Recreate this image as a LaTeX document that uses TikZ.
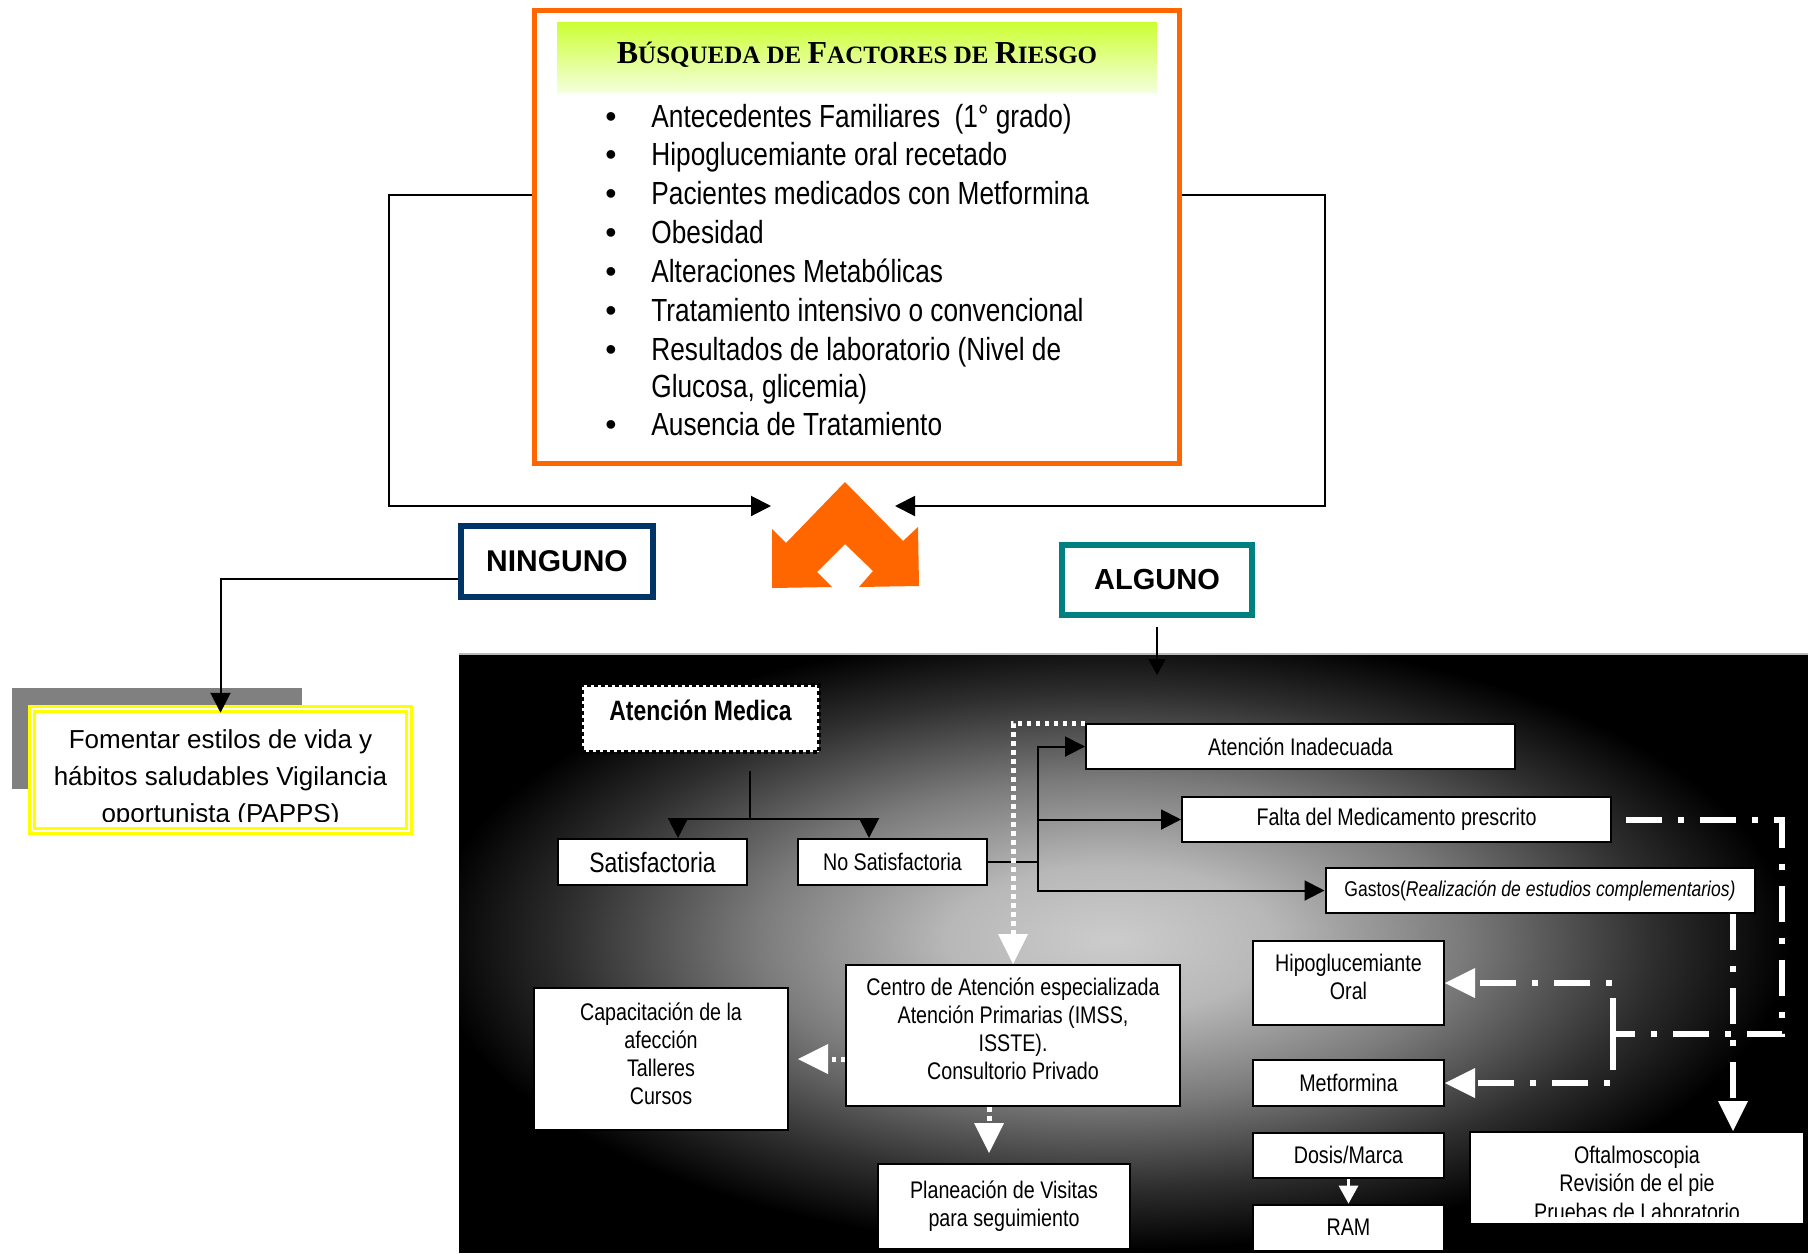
\documentclass[tikz,border=0pt]{standalone}
\usepackage{fontspec}
\setmainfont{Liberation Sans}
\newfontfamily\narrow[FakeStretch=0.82]{Liberation Sans}
\newfontfamily\titleserif{Liberation Serif}
\usetikzlibrary{arrows.meta}

\definecolor{riskorange}{HTML}{FF6600}
\definecolor{navybox}{HTML}{003366}
\definecolor{tealbox}{HTML}{008080}
\definecolor{limetop}{HTML}{CCFF33}
\definecolor{limebot}{HTML}{F4FFDC}
\definecolor{shadowgray}{HTML}{808080}
\definecolor{yellowline}{HTML}{FFFF00}
\definecolor{glowA}{gray}{0.80}
\definecolor{glowB}{gray}{0.72}
\definecolor{glowC}{gray}{0.48}
\definecolor{glowD}{gray}{0.18}
\definecolor{glowE}{gray}{0.0}

% light spot in the middle of the dark panel
\pgfdeclareradialshading{panelglow}{\pgfpoint{0bp}{0bp}}{%
  color(0bp)=(glowA); color(6bp)=(glowB); color(13bp)=(glowC);
  color(20bp)=(glowD); color(25bp)=(glowE); color(50bp)=(glowE)}

% large and small capitals of the title
\newcommand\capL{\fontsize{16}{18}\selectfont}
\newcommand\capS{\fontsize{12.5}{14}\selectfont}
% extra depth under the last line of a box, to lift its text
\newcommand\lift[1]{\rule[-#1]{0pt}{#1}}

\begin{document}
\begin{tikzpicture}[x=0.5pt,y=-0.5pt,
  conn/.style={draw=black, line width=1pt},
  arr/.style={conn, -{Triangle[length=10pt,width=10pt]}},
  box/.style={draw=black, line width=1pt, fill=white, inner sep=2pt,
    align=center, font=\narrow\fontsize{12}{14}\selectfont},
  tagbox/.style={fill=white, inner sep=0pt, line width=3pt,
    font=\bfseries\fontsize{14.5}{17}\selectfont},
  listtext/.style={anchor=base west, inner sep=0pt, font=\narrow\fontsize{16}{19}\selectfont},
  bul/.style={anchor=base, inner sep=0pt, font=\fontsize{16}{19}\selectfont},
  wtip/.style={-{Triangle[length=15pt,width=15pt,line width=0pt]}},
  wdot/.style={draw=white, line width=2.5pt, dash pattern=on 2.25pt off 2.25pt, wtip},
  wdd/.style={draw=white, line width=3pt, dash pattern=on 18pt off 8pt on 3pt off 8pt},
]
\useasboundingbox (0,0) rectangle (1808,1253);

% ---------------- risk factor search ----------------
\node[draw=riskorange, line width=2.5pt, minimum width=322.5pt, minimum height=226.5pt,
      inner sep=0pt] (risk) at (857,237) {};
\shade[top color=limetop, bottom color=limebot] (557,22) rectangle (1157,92);
\node[anchor=base, inner sep=0pt, font=\titleserif\bfseries] (title) at (857,63)
  {\capL B\capS ÚSQUEDA DE \capL F\capS ACTORES DE \capL R\capS IESGO};

\node[bul] (b1) at (611,127) {\textbullet};
\node[listtext] (l1) at (651,127) {Antecedentes Familiares\ \ (1° grado)};
\node[bul] (b2) at (611,165.5) {\textbullet};
\node[listtext] (l2) at (651,165.5) {Hipoglucemiante oral recetado};
\node[bul] (b3) at (611,204) {\textbullet};
\node[listtext] (l3) at (651,204) {Pacientes medicados con Metformina};
\node[bul] (b4) at (611,243) {\textbullet};
\node[listtext] (l4) at (651,243) {Obesidad};
\node[bul] (b5) at (611,282) {\textbullet};
\node[listtext] (l5) at (651,282) {Alteraciones Metabólicas};
\node[bul] (b6) at (611,321) {\textbullet};
\node[listtext] (l6) at (651,321) {Tratamiento intensivo o convencional};
\node[bul] (b7) at (611,360) {\textbullet};
\node[listtext] (l7) at (651,360) {Resultados de laboratorio (Nivel de};
\node[listtext] (l7b) at (651,397) {Glucosa, glicemia)};
\node[bul] (b8) at (611,435) {\textbullet};
\node[listtext] (l8) at (651,435) {Ausencia de Tratamiento};

% orange double chevron
\fill[riskorange] (845,482) -- (903,541) -- (918,527) -- (919,586) -- (859,587)
  -- (873,571) -- (845,544) -- (817,572) -- (832,587) -- (772,588) -- (772,529)
  -- (786,543) -- cycle;

\coordinate (yL) at (0,195);
\coordinate (lbend) at (389,506);
\coordinate (rbend) at (1325,506);
\coordinate (chevL) at (771,506);
\coordinate (chevR) at (895,506);
\draw[arr] (risk.west |- yL) -| (lbend) -- (chevL);
\draw[arr] (risk.east |- yL) -| (rbend) -- (chevR);

% ---------------- no risk factor ----------------
\node[tagbox, draw=navybox, minimum width=96pt, minimum height=35.5pt,
      font=\bfseries\fontsize{15}{17}\selectfont] (ning) at (557,561.5) {NINGUNO};

\fill[shadowgray] (12,688) rectangle (302,789);
\node[draw=yellowline, double=white, double distance=1.25pt, line width=1.25pt, fill=white,
      minimum width=188.5pt, minimum height=61pt, inner sep=0pt] (fom) at (220.5,770) {};
\begin{scope}
  \clip (28,700) rectangle (413,821);
  \node[anchor=base, inner sep=0pt, font=\fontsize{13}{18}\selectfont] (f1) at (220.5,748) {Fomentar estilos de vida y};
  \node[anchor=base, inner sep=0pt, font=\fontsize{13}{18}\selectfont] (f2) at (220.5,785) {hábitos saludables Vigilancia};
  \node[anchor=base, inner sep=0pt, font=\fontsize{13}{18}\selectfont] (f3) at (220.5,822) {oportunista (PAPPS)};
\end{scope}

\coordinate (yN) at (0,579);
\draw[arr, shorten >=-2.5pt] (ning.west |- yN) -| (fom.north);

% ---------------- some risk factor ----------------
\node[tagbox, draw=tealbox, minimum width=95pt, minimum height=35pt] (alg) at (1157,580) {ALGUNO};

% dark panel with a light centre
\fill[black] (459,654) rectangle (1808,1253);
\begin{scope}
  \clip (459,654) rectangle (1808,1253);
  \shade[shading=panelglow] (430,630) rectangle (1790,1250);
\end{scope}
\draw[gray!55, line width=0.75pt] (459,654) -- (1808,654);

\coordinate (algtip) at (1157,675);
\draw[conn, -{Triangle[length=8pt,width=8.5pt]}, shorten <=4.5pt] (alg.south) -- (algtip);

% medical care
\node[draw=black, fill=white, line width=2pt, dash pattern=on 2pt off 1.5pt,
      minimum width=118.5pt, minimum height=33.5pt, text depth=8pt,
      font=\narrow\bfseries\fontsize{14}{16}\selectfont] (med) at (700.5,718.5) {Atención Medica\hspace{6pt}};

\node[box, minimum width=94.5pt, minimum height=23pt,
      font=\narrow\fontsize{14}{16}\selectfont] (sat) at (652.5,862) {Satisfactoria};
\node[box, minimum width=94.5pt, minimum height=23pt] (nosat) at (892.5,862) {No Satisfactoria};

\coordinate (medout) at (750,771);
\coordinate (split) at (750,819);
\coordinate (ax1) at (678,0);
\coordinate (ax2) at (869,0);
\draw[conn] (medout) -- (split);
\draw[arr] (split) -| (sat.north -| ax1);
\draw[arr] (split) -| (nosat.north -| ax2);

\node[box, minimum width=214.5pt, minimum height=22.5pt] (inad) at (1300.5,746.5) {Atención Inadecuada};
\node[box, minimum width=214.5pt, minimum height=22.5pt] (falta) at (1396.5,819.5) {Falta del Medicamento prescrito};
\node[box, minimum width=214.5pt, minimum height=22.5pt,
      font=\narrow\fontsize{10.7}{12}\selectfont] (gastos) at (1540,890.5)
      {Gastos(\itshape Realización de estudios complementarios)};

\coordinate (bus) at (1038,862);
\draw[conn] (nosat.east) -- (bus);
\draw[arr] (bus) |- (inad.west);
\draw[arr] (bus) |- (falta.west);
\draw[arr] (bus) |- (gastos.west);

\node[box, minimum width=167pt, minimum height=70.5pt] (centro) at (1013,1035.5)
  {Centro de Atención especializada\\Atención Primarias (IMSS,\\ISSTE).\\Consultorio Privado\lift{6.5pt}};
\node[box, minimum width=127pt, minimum height=71pt] (capac) at (661,1059)
  {Capacitación de la\\afección\\Talleres\\Cursos\lift{5.5pt}};
\node[box, minimum width=126pt, minimum height=42.5pt] (plan) at (1004,1206.5)
  {Planeación de Visitas\\para seguimiento\lift{2.5pt}};

\node[box, minimum width=95.5pt, minimum height=42pt] (hipo) at (1348.5,983) {Hipoglucemiante\\Oral\lift{6pt}};
\node[box, minimum width=95.5pt, minimum height=23pt] (metf) at (1348.5,1083) {Metformina};
\node[box, minimum width=95.5pt, minimum height=22.5pt] (dosis) at (1348.5,1155) {Dosis/Marca};
\node[box, minimum width=95.5pt, minimum height=23pt] (ram) at (1348.5,1227.5) {RAM};

\node[box, minimum width=167pt, minimum height=46pt] (oft) at (1637,1178) {};
\begin{scope}
  \clip (1470,1132) rectangle (1804,1216);
  \node[anchor=base, inner sep=0pt, font=\narrow\fontsize{12}{14}\selectfont] (o1) at (1637,1163.6) {Oftalmoscopia};
  \node[anchor=base, inner sep=0pt, font=\narrow\fontsize{12}{14}\selectfont] (o2) at (1637,1191.6) {Revisión de el pie};
  \node[anchor=base, inner sep=0pt, font=\narrow\fontsize{12}{14}\selectfont] (o3) at (1637,1220) {Pruebas de Laboratorio};
\end{scope}

% white dotted routes
\draw[wdot] (inad.north west) -| (centro.north);
\draw[wdot, shorten >=4.5pt] (centro.west |- capac.east) -- (capac.east);
\coordinate (px) at (989,0);
\draw[wdot, shorten >=5pt] (centro.south -| px) -- (plan.north -| px);

% white dash-dot routes
\coordinate (rail) at (1782,1034);
\coordinate (hub) at (1613,1034);
\draw[wdd, shorten <=7pt] (falta.east) -| (rail) -- (hub);
\draw[wdd, wtip] (hub) |- (hipo.east);
\draw[wdd, wtip] (hub) |- (metf.east);
\coordinate (gx) at (1733,0);
\draw[wdd, wtip] (gastos.south -| gx) -- (oft.north -| gx);

\draw[draw=white, line width=1.5pt, -{Triangle[length=9pt,width=10pt,line width=0pt]}]
  (dosis.south) -- (ram.north);
\end{tikzpicture}
\end{document}
